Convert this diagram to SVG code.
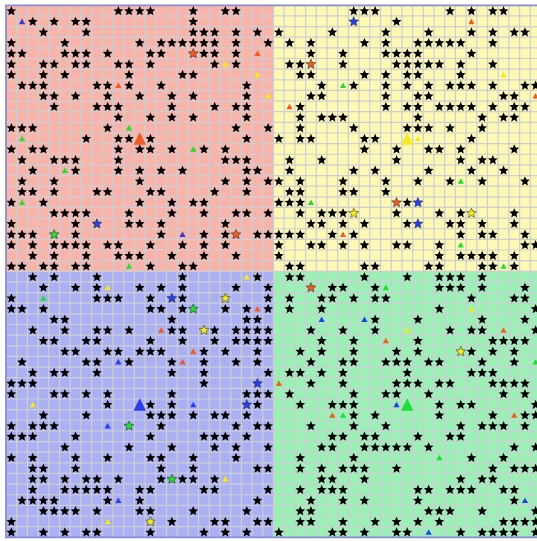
<svg xmlns="http://www.w3.org/2000/svg" width="537" height="541" viewBox="0 0 537 541">
<style>
.gl{fill:none;stroke:#cdcdd6;stroke-width:1.2;vector-effect:non-scaling-stroke}
.cs{stroke:#222;stroke-width:0.05}
.b{fill:#2a3ee8}.o{fill:#f05a24}.g{fill:#22dd33}.y{fill:#f2ea22}
</style>
<defs>
<path id="s" d="M0.5,0.065L0.6293,0.367L0.9565,0.3967L0.7092,0.613L0.7821,0.9333L0.5,0.765L0.2179,0.9333L0.2908,0.613L0.0435,0.3967L0.3707,0.367Z"/>
<path id="t" d="M0.5,0.25L0.79,0.77L0.21,0.77Z"/>
<path id="T" d="M0.5,-0.08L1.08,1.1L-0.08,1.1Z"/>
</defs>
<rect width="537" height="541" fill="#ffffff"/>
<g transform="translate(6,5.3) scale(10.7,10.64)">
<g id="quadrants">
<rect x="0" y="0" width="25" height="25" fill="#f8b4a8"/>
<rect x="25" y="0" width="25" height="25" fill="#fdf8b4"/>
<rect x="0" y="25" width="25" height="25" fill="#abb0f3"/>
<rect x="25" y="25" width="25" height="25" fill="#9bf0b5"/>
</g>
<path id="grid" class="gl" d="M1,0V50M2,0V50M3,0V50M4,0V50M5,0V50M6,0V50M7,0V50M8,0V50M9,0V50M10,0V50M11,0V50M12,0V50M13,0V50M14,0V50M15,0V50M16,0V50M17,0V50M18,0V50M19,0V50M20,0V50M21,0V50M22,0V50M23,0V50M24,0V50M25,0V50M26,0V50M27,0V50M28,0V50M29,0V50M30,0V50M31,0V50M32,0V50M33,0V50M34,0V50M35,0V50M36,0V50M37,0V50M38,0V50M39,0V50M40,0V50M41,0V50M42,0V50M43,0V50M44,0V50M45,0V50M46,0V50M47,0V50M48,0V50M49,0V50M0,1H50M0,2H50M0,3H50M0,4H50M0,5H50M0,6H50M0,7H50M0,8H50M0,9H50M0,10H50M0,11H50M0,12H50M0,13H50M0,14H50M0,15H50M0,16H50M0,17H50M0,18H50M0,19H50M0,20H50M0,21H50M0,22H50M0,23H50M0,24H50M0,25H50M0,26H50M0,27H50M0,28H50M0,29H50M0,30H50M0,31H50M0,32H50M0,33H50M0,34H50M0,35H50M0,36H50M0,37H50M0,38H50M0,39H50M0,40H50M0,41H50M0,42H50M0,43H50M0,44H50M0,45H50M0,46H50M0,47H50M0,48H50M0,49H50"/>
<rect x="0" y="0" width="50" height="50" fill="none" stroke="#8a8ad8" stroke-width="1.8" vector-effect="non-scaling-stroke"/>
<g id="stars" fill="#000">
<g transform="translate(0,0)"><use href="#s" x="0"/><use href="#s" x="10"/><use href="#s" x="11"/><use href="#s" x="12"/><use href="#s" x="13"/><use href="#s" x="17"/><use href="#s" x="20"/><use href="#s" x="21"/><use href="#s" x="32"/><use href="#s" x="33"/><use href="#s" x="34"/><use href="#s" x="41"/><use href="#s" x="43"/><use href="#s" x="45"/><use href="#s" x="46"/></g>
<g transform="translate(0,1)"><use href="#s" x="2"/><use href="#s" x="4"/><use href="#s" x="6"/><use href="#s" x="7"/><use href="#s" x="17"/><use href="#s" x="36"/></g>
<g transform="translate(0,2)"><use href="#s" x="3"/><use href="#s" x="7"/><use href="#s" x="17"/><use href="#s" x="18"/><use href="#s" x="19"/><use href="#s" x="21"/><use href="#s" x="23"/><use href="#s" x="25"/><use href="#s" x="30"/><use href="#s" x="35"/><use href="#s" x="39"/><use href="#s" x="43"/><use href="#s" x="45"/><use href="#s" x="47"/><use href="#s" x="48"/></g>
<g transform="translate(0,3)"><use href="#s" x="0"/><use href="#s" x="5"/><use href="#s" x="12"/><use href="#s" x="14"/><use href="#s" x="15"/><use href="#s" x="16"/><use href="#s" x="17"/><use href="#s" x="18"/><use href="#s" x="19"/><use href="#s" x="21"/><use href="#s" x="24"/><use href="#s" x="26"/><use href="#s" x="28"/><use href="#s" x="33"/><use href="#s" x="35"/><use href="#s" x="38"/><use href="#s" x="39"/><use href="#s" x="40"/><use href="#s" x="41"/><use href="#s" x="42"/><use href="#s" x="45"/></g>
<g transform="translate(0,4)"><use href="#s" x="0"/><use href="#s" x="1"/><use href="#s" x="5"/><use href="#s" x="6"/><use href="#s" x="7"/><use href="#s" x="9"/><use href="#s" x="13"/><use href="#s" x="14"/><use href="#s" x="18"/><use href="#s" x="19"/><use href="#s" x="21"/><use href="#s" x="28"/><use href="#s" x="31"/><use href="#s" x="35"/><use href="#s" x="36"/><use href="#s" x="37"/><use href="#s" x="38"/><use href="#s" x="43"/></g>
<g transform="translate(0,5)"><use href="#s" x="0"/><use href="#s" x="3"/><use href="#s" x="4"/><use href="#s" x="6"/><use href="#s" x="7"/><use href="#s" x="10"/><use href="#s" x="11"/><use href="#s" x="13"/><use href="#s" x="19"/><use href="#s" x="21"/><use href="#s" x="26"/><use href="#s" x="27"/><use href="#s" x="31"/><use href="#s" x="36"/><use href="#s" x="37"/><use href="#s" x="38"/><use href="#s" x="39"/><use href="#s" x="40"/><use href="#s" x="42"/><use href="#s" x="45"/></g>
<g transform="translate(0,6)"><use href="#s" x="0"/><use href="#s" x="3"/><use href="#s" x="5"/><use href="#s" x="11"/><use href="#s" x="16"/><use href="#s" x="17"/><use href="#s" x="27"/><use href="#s" x="28"/><use href="#s" x="33"/><use href="#s" x="35"/><use href="#s" x="37"/><use href="#s" x="38"/><use href="#s" x="42"/></g>
<g transform="translate(0,7)"><use href="#s" x="1"/><use href="#s" x="2"/><use href="#s" x="3"/><use href="#s" x="8"/><use href="#s" x="9"/><use href="#s" x="11"/><use href="#s" x="14"/><use href="#s" x="22"/><use href="#s" x="29"/><use href="#s" x="32"/><use href="#s" x="35"/><use href="#s" x="37"/><use href="#s" x="39"/><use href="#s" x="41"/><use href="#s" x="42"/><use href="#s" x="43"/><use href="#s" x="45"/><use href="#s" x="48"/><use href="#s" x="49"/></g>
<g transform="translate(0,8)"><use href="#s" x="3"/><use href="#s" x="4"/><use href="#s" x="6"/><use href="#s" x="9"/><use href="#s" x="12"/><use href="#s" x="15"/><use href="#s" x="17"/><use href="#s" x="22"/><use href="#s" x="28"/><use href="#s" x="29"/><use href="#s" x="35"/><use href="#s" x="38"/><use href="#s" x="39"/><use href="#s" x="46"/><use href="#s" x="47"/></g>
<g transform="translate(0,9)"><use href="#s" x="4"/><use href="#s" x="8"/><use href="#s" x="9"/><use href="#s" x="10"/><use href="#s" x="15"/><use href="#s" x="19"/><use href="#s" x="21"/><use href="#s" x="22"/><use href="#s" x="27"/><use href="#s" x="35"/><use href="#s" x="37"/><use href="#s" x="38"/><use href="#s" x="40"/><use href="#s" x="41"/><use href="#s" x="42"/><use href="#s" x="43"/><use href="#s" x="45"/><use href="#s" x="47"/><use href="#s" x="48"/></g>
<g transform="translate(0,10)"><use href="#s" x="10"/><use href="#s" x="13"/><use href="#s" x="15"/><use href="#s" x="17"/><use href="#s" x="22"/><use href="#s" x="27"/><use href="#s" x="29"/><use href="#s" x="30"/><use href="#s" x="31"/><use href="#s" x="38"/><use href="#s" x="44"/><use href="#s" x="46"/><use href="#s" x="47"/></g>
<g transform="translate(0,11)"><use href="#s" x="0"/><use href="#s" x="1"/><use href="#s" x="2"/><use href="#s" x="9"/><use href="#s" x="21"/><use href="#s" x="24"/><use href="#s" x="27"/><use href="#s" x="32"/><use href="#s" x="37"/><use href="#s" x="38"/><use href="#s" x="39"/><use href="#s" x="41"/><use href="#s" x="44"/></g>
<g transform="translate(0,12)"><use href="#s" x="7"/><use href="#s" x="10"/><use href="#s" x="11"/><use href="#s" x="13"/><use href="#s" x="22"/><use href="#s" x="25"/><use href="#s" x="27"/><use href="#s" x="28"/><use href="#s" x="33"/><use href="#s" x="34"/><use href="#s" x="43"/></g>
<g transform="translate(0,13)"><use href="#s" x="0"/><use href="#s" x="2"/><use href="#s" x="3"/><use href="#s" x="10"/><use href="#s" x="12"/><use href="#s" x="13"/><use href="#s" x="15"/><use href="#s" x="18"/><use href="#s" x="20"/><use href="#s" x="33"/><use href="#s" x="36"/><use href="#s" x="39"/><use href="#s" x="40"/><use href="#s" x="42"/><use href="#s" x="47"/></g>
<g transform="translate(0,14)"><use href="#s" x="1"/><use href="#s" x="4"/><use href="#s" x="5"/><use href="#s" x="6"/><use href="#s" x="10"/><use href="#s" x="20"/><use href="#s" x="21"/><use href="#s" x="22"/><use href="#s" x="26"/><use href="#s" x="29"/><use href="#s" x="36"/><use href="#s" x="42"/><use href="#s" x="44"/><use href="#s" x="45"/></g>
<g transform="translate(0,15)"><use href="#s" x="2"/><use href="#s" x="6"/><use href="#s" x="10"/><use href="#s" x="12"/><use href="#s" x="14"/><use href="#s" x="16"/><use href="#s" x="22"/><use href="#s" x="23"/><use href="#s" x="26"/><use href="#s" x="32"/><use href="#s" x="34"/><use href="#s" x="39"/><use href="#s" x="43"/><use href="#s" x="46"/></g>
<g transform="translate(0,16)"><use href="#s" x="1"/><use href="#s" x="4"/><use href="#s" x="12"/><use href="#s" x="20"/><use href="#s" x="22"/><use href="#s" x="24"/><use href="#s" x="25"/><use href="#s" x="27"/><use href="#s" x="31"/><use href="#s" x="35"/><use href="#s" x="38"/><use href="#s" x="41"/><use href="#s" x="44"/><use href="#s" x="48"/></g>
<g transform="translate(0,17)"><use href="#s" x="1"/><use href="#s" x="2"/><use href="#s" x="4"/><use href="#s" x="8"/><use href="#s" x="9"/><use href="#s" x="13"/><use href="#s" x="14"/><use href="#s" x="19"/><use href="#s" x="22"/><use href="#s" x="26"/><use href="#s" x="27"/><use href="#s" x="31"/><use href="#s" x="32"/><use href="#s" x="35"/></g>
<g transform="translate(0,18)"><use href="#s" x="0"/><use href="#s" x="3"/><use href="#s" x="12"/><use href="#s" x="15"/><use href="#s" x="17"/><use href="#s" x="18"/><use href="#s" x="25"/><use href="#s" x="26"/><use href="#s" x="27"/><use href="#s" x="37"/></g>
<g transform="translate(0,19)"><use href="#s" x="4"/><use href="#s" x="5"/><use href="#s" x="6"/><use href="#s" x="7"/><use href="#s" x="11"/><use href="#s" x="15"/><use href="#s" x="18"/><use href="#s" x="21"/><use href="#s" x="22"/><use href="#s" x="24"/><use href="#s" x="27"/><use href="#s" x="29"/><use href="#s" x="30"/><use href="#s" x="31"/><use href="#s" x="36"/><use href="#s" x="40"/><use href="#s" x="42"/><use href="#s" x="47"/></g>
<g transform="translate(0,20)"><use href="#s" x="0"/><use href="#s" x="6"/><use href="#s" x="11"/><use href="#s" x="12"/><use href="#s" x="14"/><use href="#s" x="20"/><use href="#s" x="28"/><use href="#s" x="29"/><use href="#s" x="31"/><use href="#s" x="33"/><use href="#s" x="37"/><use href="#s" x="41"/><use href="#s" x="42"/><use href="#s" x="44"/><use href="#s" x="47"/></g>
<g transform="translate(0,21)"><use href="#s" x="0"/><use href="#s" x="1"/><use href="#s" x="2"/><use href="#s" x="6"/><use href="#s" x="14"/><use href="#s" x="18"/><use href="#s" x="20"/><use href="#s" x="23"/><use href="#s" x="24"/><use href="#s" x="25"/><use href="#s" x="26"/><use href="#s" x="27"/><use href="#s" x="30"/><use href="#s" x="32"/><use href="#s" x="42"/><use href="#s" x="44"/><use href="#s" x="45"/><use href="#s" x="48"/></g>
<g transform="translate(0,22)"><use href="#s" x="0"/><use href="#s" x="2"/><use href="#s" x="4"/><use href="#s" x="5"/><use href="#s" x="6"/><use href="#s" x="7"/><use href="#s" x="9"/><use href="#s" x="10"/><use href="#s" x="13"/><use href="#s" x="16"/><use href="#s" x="18"/><use href="#s" x="20"/><use href="#s" x="25"/><use href="#s" x="28"/><use href="#s" x="29"/><use href="#s" x="31"/><use href="#s" x="33"/><use href="#s" x="36"/><use href="#s" x="37"/><use href="#s" x="40"/><use href="#s" x="48"/><use href="#s" x="49"/></g>
<g transform="translate(0,23)"><use href="#s" x="2"/><use href="#s" x="4"/><use href="#s" x="7"/><use href="#s" x="10"/><use href="#s" x="11"/><use href="#s" x="12"/><use href="#s" x="15"/><use href="#s" x="18"/><use href="#s" x="21"/><use href="#s" x="25"/><use href="#s" x="40"/><use href="#s" x="42"/><use href="#s" x="43"/><use href="#s" x="44"/><use href="#s" x="45"/><use href="#s" x="47"/></g>
<g transform="translate(0,24)"><use href="#s" x="0"/><use href="#s" x="1"/><use href="#s" x="3"/><use href="#s" x="4"/><use href="#s" x="6"/><use href="#s" x="7"/><use href="#s" x="13"/><use href="#s" x="16"/><use href="#s" x="17"/><use href="#s" x="26"/><use href="#s" x="27"/><use href="#s" x="33"/><use href="#s" x="34"/><use href="#s" x="39"/><use href="#s" x="40"/><use href="#s" x="44"/><use href="#s" x="45"/><use href="#s" x="47"/></g>
<g transform="translate(0,25)"><use href="#s" x="2"/><use href="#s" x="4"/><use href="#s" x="8"/><use href="#s" x="16"/><use href="#s" x="23"/><use href="#s" x="26"/><use href="#s" x="27"/><use href="#s" x="33"/><use href="#s" x="37"/><use href="#s" x="40"/><use href="#s" x="41"/><use href="#s" x="42"/><use href="#s" x="44"/></g>
<g transform="translate(0,26)"><use href="#s" x="3"/><use href="#s" x="6"/><use href="#s" x="8"/><use href="#s" x="12"/><use href="#s" x="14"/><use href="#s" x="16"/><use href="#s" x="21"/><use href="#s" x="24"/><use href="#s" x="30"/><use href="#s" x="31"/><use href="#s" x="34"/><use href="#s" x="40"/><use href="#s" x="41"/><use href="#s" x="42"/><use href="#s" x="44"/><use href="#s" x="48"/></g>
<g transform="translate(0,27)"><use href="#s" x="0"/><use href="#s" x="8"/><use href="#s" x="9"/><use href="#s" x="10"/><use href="#s" x="13"/><use href="#s" x="16"/><use href="#s" x="24"/><use href="#s" x="26"/><use href="#s" x="29"/><use href="#s" x="30"/><use href="#s" x="32"/><use href="#s" x="34"/><use href="#s" x="35"/><use href="#s" x="43"/><use href="#s" x="47"/><use href="#s" x="48"/></g>
<g transform="translate(0,28)"><use href="#s" x="0"/><use href="#s" x="1"/><use href="#s" x="3"/><use href="#s" x="13"/><use href="#s" x="14"/><use href="#s" x="16"/><use href="#s" x="20"/><use href="#s" x="22"/><use href="#s" x="24"/><use href="#s" x="26"/><use href="#s" x="29"/><use href="#s" x="40"/><use href="#s" x="49"/></g>
<g transform="translate(0,29)"><use href="#s" x="4"/><use href="#s" x="5"/><use href="#s" x="15"/><use href="#s" x="22"/><use href="#s" x="23"/><use href="#s" x="34"/><use href="#s" x="38"/><use href="#s" x="44"/><use href="#s" x="48"/></g>
<g transform="translate(0,30)"><use href="#s" x="2"/><use href="#s" x="5"/><use href="#s" x="8"/><use href="#s" x="9"/><use href="#s" x="11"/><use href="#s" x="15"/><use href="#s" x="16"/><use href="#s" x="19"/><use href="#s" x="21"/><use href="#s" x="22"/><use href="#s" x="23"/><use href="#s" x="24"/><use href="#s" x="28"/><use href="#s" x="31"/><use href="#s" x="34"/><use href="#s" x="41"/><use href="#s" x="43"/><use href="#s" x="44"/><use href="#s" x="49"/></g>
<g transform="translate(0,31)"><use href="#s" x="3"/><use href="#s" x="4"/><use href="#s" x="7"/><use href="#s" x="8"/><use href="#s" x="13"/><use href="#s" x="16"/><use href="#s" x="19"/><use href="#s" x="21"/><use href="#s" x="22"/><use href="#s" x="23"/><use href="#s" x="24"/><use href="#s" x="29"/><use href="#s" x="32"/><use href="#s" x="38"/><use href="#s" x="45"/><use href="#s" x="46"/><use href="#s" x="47"/><use href="#s" x="48"/></g>
<g transform="translate(0,32)"><use href="#s" x="5"/><use href="#s" x="6"/><use href="#s" x="9"/><use href="#s" x="10"/><use href="#s" x="12"/><use href="#s" x="13"/><use href="#s" x="14"/><use href="#s" x="18"/><use href="#s" x="20"/><use href="#s" x="23"/><use href="#s" x="27"/><use href="#s" x="29"/><use href="#s" x="32"/><use href="#s" x="36"/><use href="#s" x="38"/><use href="#s" x="43"/><use href="#s" x="45"/><use href="#s" x="47"/></g>
<g transform="translate(0,33)"><use href="#s" x="1"/><use href="#s" x="7"/><use href="#s" x="8"/><use href="#s" x="11"/><use href="#s" x="15"/><use href="#s" x="18"/><use href="#s" x="21"/><use href="#s" x="23"/><use href="#s" x="28"/><use href="#s" x="31"/><use href="#s" x="32"/><use href="#s" x="35"/><use href="#s" x="36"/><use href="#s" x="37"/><use href="#s" x="39"/><use href="#s" x="40"/><use href="#s" x="44"/><use href="#s" x="47"/></g>
<g transform="translate(0,34)"><use href="#s" x="2"/><use href="#s" x="4"/><use href="#s" x="5"/><use href="#s" x="8"/><use href="#s" x="15"/><use href="#s" x="18"/><use href="#s" x="24"/><use href="#s" x="26"/><use href="#s" x="27"/><use href="#s" x="29"/><use href="#s" x="31"/><use href="#s" x="37"/><use href="#s" x="43"/><use href="#s" x="44"/><use href="#s" x="45"/></g>
<g transform="translate(0,35)"><use href="#s" x="0"/><use href="#s" x="1"/><use href="#s" x="2"/><use href="#s" x="18"/><use href="#s" x="28"/><use href="#s" x="31"/><use href="#s" x="36"/><use href="#s" x="37"/><use href="#s" x="38"/><use href="#s" x="40"/><use href="#s" x="41"/><use href="#s" x="45"/><use href="#s" x="46"/><use href="#s" x="47"/><use href="#s" x="48"/></g>
<g transform="translate(0,36)"><use href="#s" x="0"/><use href="#s" x="4"/><use href="#s" x="5"/><use href="#s" x="7"/><use href="#s" x="9"/><use href="#s" x="15"/><use href="#s" x="22"/><use href="#s" x="23"/><use href="#s" x="24"/><use href="#s" x="26"/><use href="#s" x="32"/><use href="#s" x="35"/><use href="#s" x="36"/><use href="#s" x="39"/><use href="#s" x="46"/><use href="#s" x="48"/></g>
<g transform="translate(0,37)"><use href="#s" x="9"/><use href="#s" x="13"/><use href="#s" x="15"/><use href="#s" x="23"/><use href="#s" x="27"/><use href="#s" x="30"/><use href="#s" x="31"/><use href="#s" x="32"/><use href="#s" x="40"/><use href="#s" x="42"/><use href="#s" x="43"/><use href="#s" x="49"/></g>
<g transform="translate(0,38)"><use href="#s" x="3"/><use href="#s" x="7"/><use href="#s" x="13"/><use href="#s" x="14"/><use href="#s" x="15"/><use href="#s" x="17"/><use href="#s" x="19"/><use href="#s" x="20"/><use href="#s" x="22"/><use href="#s" x="32"/><use href="#s" x="34"/><use href="#s" x="40"/><use href="#s" x="45"/><use href="#s" x="48"/><use href="#s" x="49"/></g>
<g transform="translate(0,39)"><use href="#s" x="0"/><use href="#s" x="2"/><use href="#s" x="3"/><use href="#s" x="4"/><use href="#s" x="14"/><use href="#s" x="21"/><use href="#s" x="23"/><use href="#s" x="24"/><use href="#s" x="28"/><use href="#s" x="32"/><use href="#s" x="35"/><use href="#s" x="42"/><use href="#s" x="44"/><use href="#s" x="45"/><use href="#s" x="46"/><use href="#s" x="48"/></g>
<g transform="translate(0,40)"><use href="#s" x="0"/><use href="#s" x="1"/><use href="#s" x="2"/><use href="#s" x="6"/><use href="#s" x="13"/><use href="#s" x="18"/><use href="#s" x="19"/><use href="#s" x="20"/><use href="#s" x="22"/><use href="#s" x="30"/><use href="#s" x="31"/><use href="#s" x="33"/><use href="#s" x="34"/><use href="#s" x="38"/><use href="#s" x="41"/><use href="#s" x="42"/></g>
<g transform="translate(0,41)"><use href="#s" x="5"/><use href="#s" x="11"/><use href="#s" x="15"/><use href="#s" x="19"/><use href="#s" x="21"/><use href="#s" x="24"/><use href="#s" x="29"/><use href="#s" x="30"/><use href="#s" x="33"/><use href="#s" x="34"/><use href="#s" x="35"/><use href="#s" x="36"/><use href="#s" x="37"/><use href="#s" x="39"/><use href="#s" x="47"/><use href="#s" x="49"/></g>
<g transform="translate(0,42)"><use href="#s" x="0"/><use href="#s" x="2"/><use href="#s" x="6"/><use href="#s" x="9"/><use href="#s" x="13"/><use href="#s" x="14"/><use href="#s" x="17"/><use href="#s" x="21"/><use href="#s" x="27"/><use href="#s" x="32"/><use href="#s" x="43"/><use href="#s" x="46"/></g>
<g transform="translate(0,43)"><use href="#s" x="2"/><use href="#s" x="3"/><use href="#s" x="6"/><use href="#s" x="14"/><use href="#s" x="17"/><use href="#s" x="23"/><use href="#s" x="24"/><use href="#s" x="27"/><use href="#s" x="29"/><use href="#s" x="31"/><use href="#s" x="32"/><use href="#s" x="33"/><use href="#s" x="36"/><use href="#s" x="45"/><use href="#s" x="47"/><use href="#s" x="48"/><use href="#s" x="49"/></g>
<g transform="translate(0,44)"><use href="#s" x="2"/><use href="#s" x="3"/><use href="#s" x="5"/><use href="#s" x="7"/><use href="#s" x="8"/><use href="#s" x="10"/><use href="#s" x="14"/><use href="#s" x="16"/><use href="#s" x="17"/><use href="#s" x="19"/><use href="#s" x="29"/><use href="#s" x="30"/><use href="#s" x="33"/><use href="#s" x="42"/><use href="#s" x="44"/><use href="#s" x="45"/></g>
<g transform="translate(0,45)"><use href="#s" x="2"/><use href="#s" x="5"/><use href="#s" x="6"/><use href="#s" x="7"/><use href="#s" x="8"/><use href="#s" x="9"/><use href="#s" x="12"/><use href="#s" x="13"/><use href="#s" x="18"/><use href="#s" x="19"/><use href="#s" x="24"/><use href="#s" x="27"/><use href="#s" x="29"/><use href="#s" x="30"/><use href="#s" x="31"/><use href="#s" x="38"/><use href="#s" x="39"/><use href="#s" x="41"/><use href="#s" x="42"/><use href="#s" x="43"/><use href="#s" x="46"/><use href="#s" x="47"/></g>
<g transform="translate(0,46)"><use href="#s" x="1"/><use href="#s" x="2"/><use href="#s" x="3"/><use href="#s" x="4"/><use href="#s" x="9"/><use href="#s" x="12"/><use href="#s" x="23"/><use href="#s" x="28"/><use href="#s" x="31"/><use href="#s" x="33"/><use href="#s" x="38"/><use href="#s" x="47"/></g>
<g transform="translate(0,47)"><use href="#s" x="3"/><use href="#s" x="4"/><use href="#s" x="5"/><use href="#s" x="6"/><use href="#s" x="8"/><use href="#s" x="12"/><use href="#s" x="13"/><use href="#s" x="17"/><use href="#s" x="22"/><use href="#s" x="27"/><use href="#s" x="28"/><use href="#s" x="39"/><use href="#s" x="40"/><use href="#s" x="41"/><use href="#s" x="44"/><use href="#s" x="49"/></g>
<g transform="translate(0,48)"><use href="#s" x="0"/><use href="#s" x="15"/><use href="#s" x="19"/><use href="#s" x="20"/><use href="#s" x="23"/><use href="#s" x="24"/><use href="#s" x="27"/><use href="#s" x="28"/><use href="#s" x="31"/><use href="#s" x="34"/><use href="#s" x="36"/><use href="#s" x="38"/><use href="#s" x="40"/><use href="#s" x="46"/><use href="#s" x="47"/><use href="#s" x="48"/><use href="#s" x="49"/></g>
<g transform="translate(0,49)"><use href="#s" x="0"/><use href="#s" x="3"/><use href="#s" x="5"/><use href="#s" x="7"/><use href="#s" x="8"/><use href="#s" x="13"/><use href="#s" x="18"/><use href="#s" x="20"/><use href="#s" x="22"/><use href="#s" x="25"/><use href="#s" x="30"/><use href="#s" x="31"/><use href="#s" x="33"/><use href="#s" x="36"/><use href="#s" x="37"/><use href="#s" x="42"/><use href="#s" x="44"/><use href="#s" x="45"/><use href="#s" x="46"/><use href="#s" x="47"/><use href="#s" x="49"/></g>
</g>
<g id="colored-stars">
<use href="#s" class="b cs" x="32" y="1"/><use href="#s" class="b cs" x="38" y="18"/><use href="#s" class="b cs" x="8" y="20"/><use href="#s" class="b cs" x="38" y="20"/><use href="#s" class="b cs" x="15" y="27"/><use href="#s" class="b cs" x="23" y="35"/><use href="#s" class="b cs" x="22" y="37"/>
<use href="#s" class="o cs" x="17" y="4"/><use href="#s" class="o cs" x="28" y="5"/><use href="#s" class="o cs" x="36" y="18"/><use href="#s" class="o cs" x="21" y="21"/><use href="#s" class="o cs" x="28" y="26"/>
<use href="#s" class="g cs" x="4" y="21"/><use href="#s" class="g cs" x="17" y="28"/><use href="#s" class="g cs" x="11" y="39"/><use href="#s" class="g cs" x="15" y="44"/>
<use href="#s" class="y cs" x="32" y="19"/><use href="#s" class="y cs" x="43" y="19"/><use href="#s" class="y cs" x="20" y="27"/><use href="#s" class="y cs" x="18" y="30"/><use href="#s" class="y cs" x="42" y="32"/><use href="#s" class="y cs" x="13" y="48"/>
</g>
<g id="triangles">
<use href="#t" class="b" x="1" y="1"/><use href="#t" class="b" x="16" y="21"/><use href="#t" class="b" x="10" y="33"/><use href="#t" class="b" x="17" y="37"/><use href="#t" class="b" x="9" y="39"/><use href="#t" class="b" x="10" y="46"/><use href="#t" class="b" x="29" y="29"/><use href="#t" class="b" x="33" y="29"/><use href="#t" class="b" x="36" y="37"/><use href="#t" class="b" x="48" y="46"/><use href="#t" class="b" x="39" y="49"/>
<use href="#t" class="o" x="43" y="1"/><use href="#t" class="o" x="23" y="4"/><use href="#t" class="o" x="10" y="7"/><use href="#t" class="o" x="49" y="8"/><use href="#t" class="o" x="26" y="9"/><use href="#t" class="o" x="31" y="21"/><use href="#t" class="o" x="23" y="28"/><use href="#t" class="o" x="14" y="30"/><use href="#t" class="o" x="46" y="30"/><use href="#t" class="o" x="35" y="31"/><use href="#t" class="o" x="17" y="32"/><use href="#t" class="o" x="16" y="33"/><use href="#t" class="o" x="25" y="35"/><use href="#t" class="o" x="30" y="38"/><use href="#t" class="o" x="47" y="38"/>
<use href="#t" class="g" x="31" y="7"/><use href="#t" class="g" x="11" y="11"/><use href="#t" class="g" x="1" y="12"/><use href="#t" class="g" x="17" y="13"/><use href="#t" class="g" x="5" y="15"/><use href="#t" class="g" x="42" y="16"/><use href="#t" class="g" x="1" y="18"/><use href="#t" class="g" x="28" y="18"/><use href="#t" class="g" x="42" y="22"/><use href="#t" class="g" x="11" y="24"/><use href="#t" class="g" x="46" y="24"/><use href="#t" class="g" x="35" y="26"/><use href="#t" class="g" x="3" y="27"/><use href="#t" class="g" x="49" y="33"/><use href="#t" class="g" x="31" y="38"/><use href="#t" class="g" x="40" y="42"/>
<use href="#t" class="y" x="20" y="5"/><use href="#t" class="y" x="23" y="6"/><use href="#t" class="y" x="46" y="6"/><use href="#t" class="y" x="24" y="8"/><use href="#t" class="y" x="38" y="12"/><use href="#t" class="y" x="22" y="25"/><use href="#t" class="y" x="9" y="26"/><use href="#t" class="y" x="43" y="28"/><use href="#t" class="y" x="37" y="30"/><use href="#t" class="y" x="2" y="37"/><use href="#t" class="y" x="20" y="44"/><use href="#t" class="y" x="9" y="48"/>
<use href="#T" class="o" x="12" y="12"/><use href="#T" class="y" x="37" y="12"/><use href="#T" class="b" x="12" y="37"/><use href="#T" class="g" x="37" y="37"/>
</g>
</g>
</svg>
